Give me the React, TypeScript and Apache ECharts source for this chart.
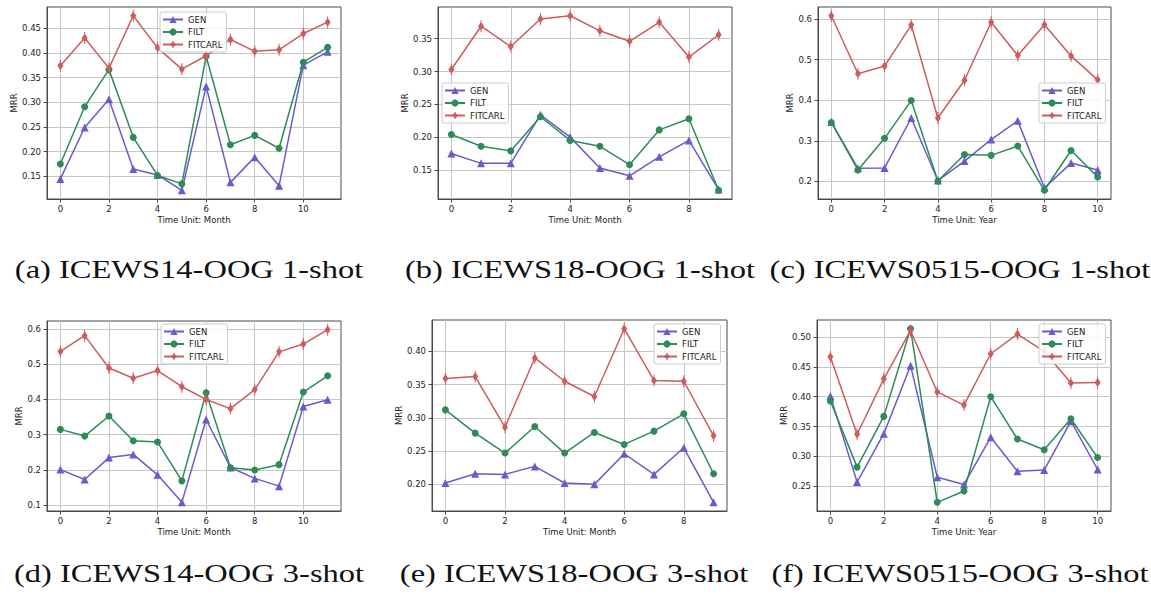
import React, { useEffect, useRef } from 'react';
import * as echarts from 'echarts';

// ---- data ----
const SERIES_NAMES = ['GEN', 'FILT', 'FITCARL'];

// (a) ICEWS14-OOG 1-shot
const GEN_A = [0.145, 0.249, 0.306, 0.165, 0.153, 0.122, 0.332, 0.138, 0.189, 0.131, 0.375, 0.402];
const FILT_A = [0.175, 0.291, 0.366, 0.229, 0.152, 0.135, 0.393, 0.214, 0.233, 0.207, 0.381, 0.411];
const FITCARL_A = [0.374, 0.430, 0.369, 0.475, 0.410, 0.367, 0.394, 0.427, 0.403, 0.406, 0.439, 0.462];
// (b) ICEWS18-OOG 1-shot
const GEN_B = [0.175, 0.160, 0.160, 0.234, 0.200, 0.153, 0.141, 0.170, 0.195, 0.120];
const FILT_B = [0.204, 0.186, 0.179, 0.231, 0.195, 0.186, 0.158, 0.211, 0.228, 0.119];
const FITCARL_B = [0.303, 0.369, 0.338, 0.380, 0.385, 0.362, 0.346, 0.375, 0.322, 0.356];
// (c) ICEWS0515-OOG 1-shot
const GEN_C = [0.346, 0.232, 0.233, 0.356, 0.202, 0.250, 0.303, 0.349, 0.184, 0.245, 0.228];
const FILT_C = [0.345, 0.228, 0.306, 0.399, 0.201, 0.266, 0.264, 0.287, 0.178, 0.276, 0.211];
const FITCARL_C = [0.608, 0.465, 0.484, 0.585, 0.356, 0.449, 0.592, 0.510, 0.586, 0.509, 0.450];
// (d) ICEWS14-OOG 3-shot
const GEN_D = [0.201, 0.173, 0.235, 0.244, 0.186, 0.108, 0.343, 0.207, 0.176, 0.154, 0.380, 0.399];
const FILT_D = [0.315, 0.296, 0.353, 0.283, 0.279, 0.169, 0.419, 0.206, 0.200, 0.215, 0.421, 0.467];
const FITCARL_D = [0.536, 0.581, 0.489, 0.460, 0.482, 0.436, 0.400, 0.374, 0.428, 0.535, 0.557, 0.598];
// (e) ICEWS18-OOG 3-shot
const GEN_E = [0.202, 0.216, 0.215, 0.227, 0.202, 0.200, 0.246, 0.215, 0.255, 0.173];
const FILT_E = [0.312, 0.277, 0.247, 0.287, 0.247, 0.278, 0.260, 0.280, 0.306, 0.216];
const FITCARL_E = [0.359, 0.362, 0.286, 0.390, 0.355, 0.332, 0.434, 0.356, 0.355, 0.273];
// (f) ICEWS0515-OOG 3-shot
const GEN_F = [0.401, 0.257, 0.338, 0.452, 0.265, 0.253, 0.332, 0.275, 0.277, 0.359, 0.278];
const FILT_F = [0.393, 0.282, 0.367, 0.514, 0.223, 0.242, 0.400, 0.329, 0.311, 0.363, 0.298];
const FITCARL_F = [0.467, 0.337, 0.430, 0.511, 0.408, 0.386, 0.472, 0.505, 0.476, 0.423, 0.424];

// tick labels
const Y_TICKS_A = [0.15, 0.2, 0.25, 0.3, 0.35, 0.4, 0.45];
const Y_TICKS_B = [0.15, 0.2, 0.25, 0.3, 0.35];
const Y_TICKS_C = [0.2, 0.3, 0.4, 0.5, 0.6];
const Y_TICKS_D = [0.1, 0.2, 0.3, 0.4, 0.5, 0.6];
const Y_TICKS_E = [0.2, 0.25, 0.3, 0.35, 0.4];
const Y_TICKS_F = [0.25, 0.3, 0.35, 0.4, 0.45, 0.5];
const X_TICKS_12 = [0, 2, 4, 6, 8, 10];
const X_TICKS_10 = [0, 2, 4, 6, 8];
const X_TICKS_11 = [0, 2, 4, 6, 8, 10];

const X_NAME_MONTH = 'Time Unit: Month';
const X_NAME_YEAR = 'Time Unit: Year';
const Y_NAME = 'MRR';

const CAPTIONS = [
  '(a) ICEWS14-OOG 1-shot',
  '(b) ICEWS18-OOG 1-shot',
  '(c) ICEWS0515-OOG 1-shot',
  '(d) ICEWS14-OOG 3-shot',
  '(e) ICEWS18-OOG 3-shot',
  '(f) ICEWS0515-OOG 3-shot',
];

// ---- styles / layout ----
const COLORS = ['#6a5acd', '#2e8b57', '#cd5c5c'];
const SYMBOLS = ['triangle', 'circle', 'path://M3 2L6 8L3 14L0 8Z M2.5 0H3.5V16H2.5Z'];
const SYMBOL_SIZES: any[] = [8, 7, [6, 12]];
const AXIS_FONT = 'DejaVu Sans';
const AXIS_COLOR = '#4a4a4a';
const TEXT_COLOR = '#222222';
const GRID_COLOR = '#c6c6c6';

const PANELS = [
  { data: [GEN_A, FILT_A, FITCARL_A], yTicks: Y_TICKS_A, xTicks: X_TICKS_12, dec: 2, xName: X_NAME_MONTH,
    grid: { left: 47, top: 7, width: 294, height: 192 }, legend: { left: 160, top: 12 }, cap: [189, 269] },
  { data: [GEN_B, FILT_B, FITCARL_B], yTicks: Y_TICKS_B, xTicks: X_TICKS_10, dec: 2, xName: X_NAME_MONTH,
    grid: { left: 438, top: 7, width: 294, height: 192 }, legend: { left: 442, top: 83 }, cap: [580, 269] },
  { data: [GEN_C, FILT_C, FITCARL_C], yTicks: Y_TICKS_C, xTicks: X_TICKS_11, dec: 1, xName: X_NAME_YEAR,
    grid: { left: 818, top: 7, width: 293, height: 192 }, legend: { left: 1039, top: 83 }, cap: [960, 269] },
  { data: [GEN_D, FILT_D, FITCARL_D], yTicks: Y_TICKS_D, xTicks: X_TICKS_12, dec: 1, xName: X_NAME_MONTH,
    grid: { left: 47, top: 321, width: 294, height: 190 }, legend: { left: 161, top: 324 }, cap: [189, 573] },
  { data: [GEN_E, FILT_E, FITCARL_E], yTicks: Y_TICKS_E, xTicks: X_TICKS_10, dec: 2, xName: X_NAME_MONTH,
    grid: { left: 432, top: 320, width: 295, height: 191 }, legend: { left: 654, top: 324 }, cap: [574, 573] },
  { data: [GEN_F, FILT_F, FITCARL_F], yTicks: Y_TICKS_F, xTicks: X_TICKS_11, dec: 2, xName: X_NAME_YEAR,
    grid: { left: 817, top: 320, width: 294, height: 191 }, legend: { left: 1039, top: 324 }, cap: [960, 573] },
];

function buildOption() {
  const textBase = { fontFamily: AXIS_FONT, fontSize: 8.5, color: TEXT_COLOR };
  const grid = PANELS.map((p) => ({
    ...p.grid,
    show: true,
    borderColor: AXIS_COLOR,
    borderWidth: 1,
    backgroundColor: 'transparent',
    containLabel: false,
    outerBoundsMode: 'none',
  }));
  const xAxis = PANELS.map((p, i) => {
    const n = p.data[0].length - 1;
    return {
      type: 'value',
      gridIndex: i,
      min: -0.05 * n,
      max: n * 1.05,
      name: p.xName,
      nameLocation: 'middle',
      nameGap: 16,
      nameTextStyle: textBase,
      axisLine: { show: true, onZero: false, lineStyle: { color: AXIS_COLOR, width: 1 } },
      axisTick: { show: true, length: 3.5, customValues: p.xTicks, lineStyle: { color: AXIS_COLOR } },
      axisLabel: { show: true, customValues: p.xTicks, margin: 5, ...textBase },
      splitLine: { show: true, lineStyle: { color: GRID_COLOR, width: 1 } },
    };
  });
  const yAxis = PANELS.map((p, i) => {
    const all = ([] as number[]).concat(...p.data);
    const lo = Math.min(...all);
    const hi = Math.max(...all);
    const pad = (hi - lo) * 0.05;
    return {
      type: 'value',
      gridIndex: i,
      min: lo - pad,
      max: hi + pad,
      name: Y_NAME,
      nameLocation: 'middle',
      nameRotate: 90,
      nameGap: p.dec === 2 ? 28 : 24,
      nameTextStyle: textBase,
      axisLine: { show: true, onZero: false, lineStyle: { color: AXIS_COLOR, width: 1 } },
      axisTick: { show: true, length: 3.5, customValues: p.yTicks, lineStyle: { color: AXIS_COLOR } },
      axisLabel: {
        show: true,
        customValues: p.yTicks,
        margin: 6,
        formatter: (v: number) => v.toFixed(p.dec),
        ...textBase,
      },
      splitLine: { show: true, lineStyle: { color: GRID_COLOR, width: 1 } },
    };
  });
  const series = PANELS.flatMap((p, i) =>
    p.data.map((vals, k) => ({
      type: 'line',
      name: SERIES_NAMES[k],
      xAxisIndex: i,
      yAxisIndex: i,
      data: vals.map((v, j) => [j, v]),
      symbol: SYMBOLS[k],
      symbolSize: SYMBOL_SIZES[k],
      showSymbol: true,
      lineStyle: { color: COLORS[k], width: 1.5 },
      itemStyle: { color: COLORS[k], borderWidth: 0 },
      emphasis: { disabled: true },
      z: 2 + k,
    }))
  );
  const legend = PANELS.map((p) => ({
    show: true,
    orient: 'vertical',
    left: p.legend.left,
    top: p.legend.top,
    data: SERIES_NAMES,
    itemWidth: 20,
    itemHeight: 9,
    itemGap: 3.5,
    padding: [3, 4, 3, 2],
    backgroundColor: 'rgba(255,255,255,0.85)',
    borderColor: '#cccccc',
    borderWidth: 1,
    borderRadius: 2,
    selectedMode: false,
    textStyle: textBase,
    z: 10,
  }));
  const graphic = PANELS.map((p, i) => ({
    type: 'text',
    x: p.cap[0],
    y: p.cap[1],
    scaleX: 1.25,
    style: {
      text: CAPTIONS[i],
      fontFamily: 'Liberation Serif',
      fontSize: 26,
      fill: '#111111',
      align: 'center',
      verticalAlign: 'middle',
      textAlign: 'center',
      textVerticalAlign: 'middle',
    },
  }));
  return {
    animation: false,
    backgroundColor: '#ffffff',
    grid,
    xAxis,
    yAxis,
    series,
    legend,
    graphic,
    tooltip: { show: false },
  };
}

export default function App() {
  const ref = useRef<HTMLDivElement>(null);
  useEffect(() => {
    if (!ref.current) return;
    const chart = echarts.init(ref.current, undefined, { renderer: 'svg' });
    chart.setOption(buildOption() as any);
    return () => chart.dispose();
  }, []);
  return (
    <div
      ref={ref}
      style={{ position: 'absolute', left: 0, top: 0, width: 1151, height: 597 }}
    />
  );
}
